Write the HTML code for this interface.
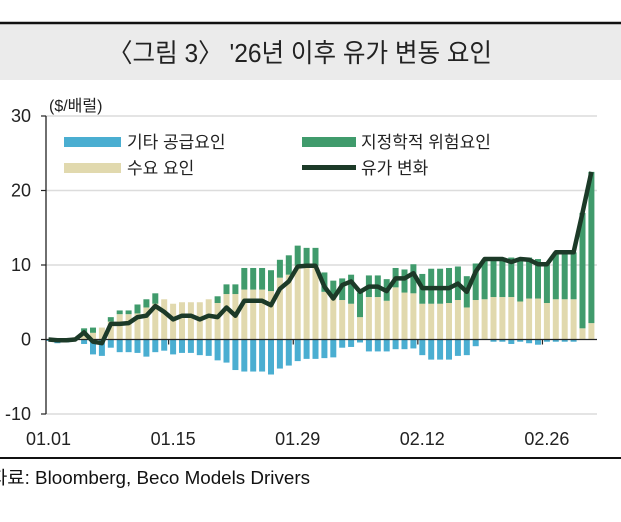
<!DOCTYPE html>
<html><head><meta charset="utf-8"><style>
body{margin:0;background:#fff;width:621px;height:517px;overflow:hidden;font-family:"Liberation Sans","Noto Sans CJK KR",sans-serif;}
svg text{font-family:"Liberation Sans","Noto Sans CJK KR",sans-serif;}
</style></head><body>
<svg id="chart" width="621" height="517" viewBox="0 0 621 517" xmlns="http://www.w3.org/2000/svg">
<rect x="0" y="24" width="621" height="56" fill="#ebebeb"/>
<line x1="0" y1="23" x2="621" y2="23" stroke="#111" stroke-width="2.5"/>
<text x="108" y="62" font-size="26" fill="#222" textLength="384" lengthAdjust="spacingAndGlyphs">〈그림 3〉 '26년 이후 유가 변동 요인</text>
<text x="49" y="111" font-size="16" fill="#222">($/배럴)</text>
<g id="grid"></g>
<g id="bars"></g>
<g id="axes"></g>
<path id="line" fill="none" stroke="#1c3a28" stroke-width="4.5" stroke-linejoin="round"/>
<g>
 <rect x="64" y="137" width="57" height="10" fill="#4aaed1"/>
 <text x="127" y="148" font-size="17" fill="#222">기타 공급요인</text>
 <rect x="302" y="137" width="54" height="10" fill="#409b6c"/>
 <text x="361" y="148" font-size="17" fill="#222">지정학적 위험요인</text>
 <rect x="64" y="163" width="57" height="10" fill="#e1d9ae"/>
 <text x="127" y="174" font-size="17" fill="#222">수요 요인</text>
 <rect x="302" y="165" width="54" height="5" fill="#1c3a28"/>
 <text x="361" y="174" font-size="17" fill="#222">유가 변화</text>
</g>
<line x1="0" y1="458" x2="621" y2="458" stroke="#111" stroke-width="2"/>
<text x="-10" y="484" font-size="18" fill="#111" textLength="320" lengthAdjust="spacingAndGlyphs">자료: Bloomberg, Beco Models Drivers</text>
</svg>
<script>
const demand=[0,0.2,0.2,0.3,0.9,0.9,1.6,2.4,3.4,3.4,3.5,4.3,4.8,5.4,4.8,5.0,5.0,5.0,5.4,4.9,6.1,6.1,6.7,6.7,6.7,6.5,8.3,8.7,9.9,9.9,9.9,6.4,6.0,5.3,4.8,3.0,5.7,5.7,5.2,7.0,6.3,6.2,4.8,4.8,4.8,4.9,5.3,4.3,5.3,5.4,5.7,5.7,5.7,5.1,5.5,5.5,4.9,5.4,5.4,5.4,1.5,2.2];
const geoTop=[0,0.2,0.2,0.3,1.5,1.6,1.6,3.0,3.9,3.9,4.7,5.4,6.2,5.4,4.8,5.0,5.0,5.0,5.4,5.8,7.4,7.4,9.6,9.6,9.6,9.3,10.7,11.3,12.6,12.3,12.3,9.0,7.9,8.2,8.7,6.3,8.6,8.6,8.1,9.6,9.4,10.1,8.8,9.5,9.5,9.6,9.8,8.5,10.2,10.8,10.8,11.0,11.0,10.8,11.0,10.8,10.1,11.7,11.7,11.7,17.0,22.5];
const otherSupply=[-0.2,-0.5,-0.4,0,-0.6,-2.0,-2.2,-1.1,-1.7,-1.7,-1.8,-2.3,-1.7,-1.5,-2.0,-1.8,-1.8,-2.1,-2.2,-2.8,-3.1,-4.1,-4.3,-4.3,-4.3,-4.7,-3.9,-3.5,-2.9,-2.6,-2.6,-2.5,-2.4,-1.1,-1.0,-0.4,-1.6,-1.6,-1.6,-1.3,-1.3,-1.2,-2.1,-2.7,-2.7,-2.7,-2.2,-2.1,-0.9,0,-0.3,-0.3,-0.6,-0.3,-0.5,-0.7,-0.3,-0.3,-0.3,-0.3,0,0];
const priceChange=[0,-0.1,-0.1,0,0.95,-0.3,-0.5,2.1,2.1,2.2,3.0,3.2,4.5,3.7,2.7,3.2,3.2,2.7,3.2,3.0,4.3,3.2,5.2,5.2,5.2,4.6,6.8,7.8,9.8,9.9,9.9,7.1,5.5,7.3,7.8,6.4,7.1,7.1,6.5,8.2,8.2,8.9,6.9,6.9,6.9,6.9,7.5,6.4,9.1,10.8,10.8,10.8,10.4,10.8,10.7,10.1,10.1,11.7,11.7,11.7,17.0,22.5];
const yTicks=[30,20,10,0,-10];
const xTickIdx=[0,14,28,42,56];
const xTickLabels=["01.01","01.15","01.29","02.12","02.26"];
const NS="http://www.w3.org/2000/svg";
const X0=48.5,DX=8.9,Y0=339.5,KY=7.45;
function xs(i){return X0+DX*i;}
function ys(v){return Y0-KY*v;}
function mk(tag,attrs,parent){const e=document.createElementNS(NS,tag);for(const k in attrs)e.setAttribute(k,attrs[k]);parent.appendChild(e);return e;}
const grid=document.getElementById('grid'),bars=document.getElementById('bars'),axes=document.getElementById('axes');
yTicks.forEach(t=>{
 if(t!==0){const g=mk('line',{x1:46,x2:597,y1:ys(t),y2:ys(t),stroke:'#dcdcdc','stroke-width':1.5},grid);
 
 }
 const tk=mk('line',{x1:41,x2:46,y1:ys(t),y2:ys(t),stroke:'#222','stroke-width':1.2},axes);
 
 
 const lb=mk('text',{x:31,y:ys(t)+6,'text-anchor':'end','font-size':18,fill:'#222'},axes);
 lb.textContent=t;
 
 
});
const ya=mk('line',{x1:46,x2:46,y1:ys(30),y2:ys(-10),stroke:'#222','stroke-width':1.3},axes);


const bw=6;
demand.forEach((d,i)=>{
 const x=xs(i)-bw/2;
 const b1=mk('rect',{x:x,y:ys(d),width:bw,height:Math.max(0,ys(0)-ys(d)),fill:'#e1d9ae'},bars);
 
 
 const g=geoTop[i];
 if(g>d){const b2=mk('rect',{x:x,y:ys(g),width:bw,height:ys(d)-ys(g),fill:'#409b6c'},bars);
 
 }
 const s=otherSupply[i];
 if(s<0){const b3=mk('rect',{x:x,y:ys(0),width:bw,height:ys(s)-ys(0),fill:'#4aaed1'},bars);
 
 }
});
const xa=mk('line',{x1:46,x2:597,y1:ys(0),y2:ys(0),stroke:'#222','stroke-width':1.3},axes);


xTickIdx.forEach((idx,k)=>{
 if(k>0){const t=mk('line',{x1:xs(idx)-DX/2,x2:xs(idx)-DX/2,y1:ys(0),y2:ys(0)+5,stroke:'#222','stroke-width':1.2},axes);
 
 }
 const l=mk('text',{x:xs(idx),y:445,'text-anchor':'middle','font-size':18,fill:'#222'},axes);
 l.textContent=xTickLabels[k];
 
 
});
document.getElementById('line').setAttribute('d',priceChange.map((v,i)=>(i?'L':'M')+xs(i).toFixed(1)+','+ys(v).toFixed(1)).join(''));
</script>
</body></html>
